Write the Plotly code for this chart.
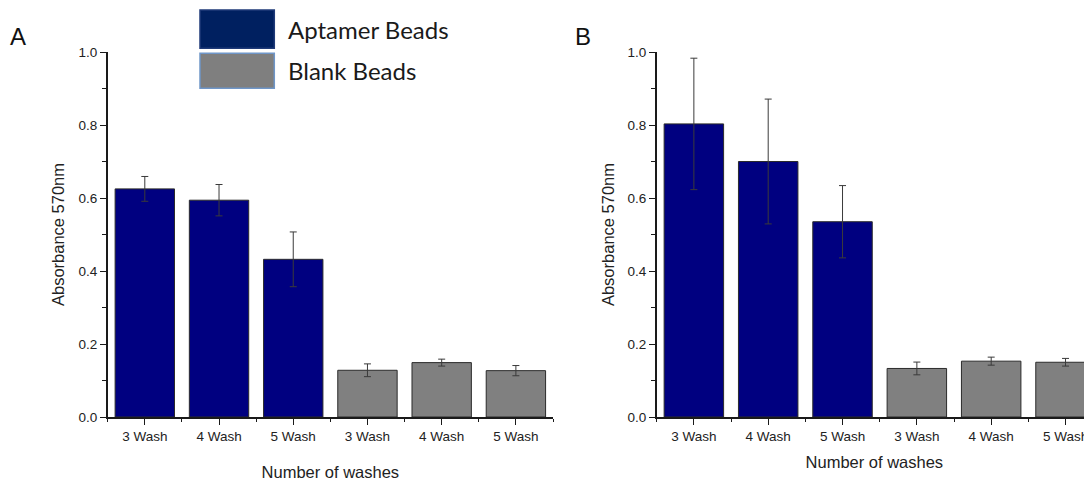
import plotly.graph_objects as go

W, H = 1092, 481
PAGE_MARGIN = 8  # default body margin of the html page
FIG_W, FIG_H = W - PAGE_MARGIN, H - PAGE_MARGIN

categories = ["3 Wash", "4 Wash", "5 Wash", "3 Wash", "4 Wash", "5 Wash"]
groups = ["Aptamer Beads", "Aptamer Beads", "Aptamer Beads", "Blank Beads", "Blank Beads", "Blank Beads"]
positions = [0, 1, 2, 3, 4, 5]

values_a = [0.625, 0.594, 0.432, 0.128, 0.149, 0.127]
errors_a = [0.034, 0.043, 0.075, 0.0175, 0.0095, 0.014]

values_b = [0.803, 0.700, 0.535, 0.133, 0.153, 0.150]
errors_b = [0.180, 0.171, 0.099, 0.0175, 0.011, 0.0105]

group_colors = {"Aptamer Beads": "#000080", "Blank Beads": "#808080"}
legend_box_colors = {"Aptamer Beads": "#002060", "Blank Beads": "#7f7f7f"}

FONT = "Liberation Sans, Arial, sans-serif"
AXIS_COLOR = "#1a1a1a"

fig = go.Figure()

for vals, errs, xa, ya in [(values_a, errors_a, "x", "y"), (values_b, errors_b, "x2", "y2")]:
    fig.add_trace(go.Bar(
        x=positions, y=vals, width=0.8,
        marker=dict(color=[group_colors[g] for g in groups],
                    line=dict(color="#2b2b2b", width=1)),
        error_y=dict(type="data", array=errs, visible=True,
                     color="#3a3a3a", thickness=1, width=3.5),
        xaxis=xa, yaxis=ya, showlegend=False,
        hovertext=groups,
    ))

def px_x(v):
    return min(1.0, (v - PAGE_MARGIN) / FIG_W)

def px_y(v):
    return 1 - (v - PAGE_MARGIN) / FIG_H

y_dom = [px_y(417), px_y(52)]

common_x = dict(
    tickmode="array", tickvals=positions, ticktext=categories,
    showline=True, linecolor=AXIS_COLOR, linewidth=1.5,
    ticks="outside", ticklen=6, tickwidth=1.2, tickcolor=AXIS_COLOR,
    minor=dict(ticks="outside", ticklen=3, tickcolor=AXIS_COLOR, tickwidth=1.2,
               tickmode="linear", tick0=0.5, dtick=1),
    showgrid=False, zeroline=False, automargin=False,
    tickfont=dict(family=FONT, size=13.5, color="#222"),
    title=dict(text="Number of washes", font=dict(family=FONT, size=16.5, color="#222")),
)
common_y = dict(
    range=[0, 1.0], domain=y_dom,
    tickmode="linear", tick0=0, dtick=0.2, tickformat=".1f",
    showline=True, linecolor=AXIS_COLOR, linewidth=1.5,
    ticks="outside", ticklen=6, tickwidth=1.2, tickcolor=AXIS_COLOR,
    minor=dict(ticks="outside", ticklen=4, tickcolor=AXIS_COLOR, tickwidth=1.2, dtick=0.1),
    showgrid=False, zeroline=False, automargin=False,
    tickfont=dict(family=FONT, size=13.5, color="#222"),
    title=dict(text="Absorbance 570nm", font=dict(family=FONT, size=16.5, color="#222")),
)

xa1 = dict(common_x)
xa1.update(domain=[px_x(107.7), px_x(553)], range=[-0.5, 5.5], anchor="y")
xa1["title"] = dict(common_x["title"], standoff=24)

# panel B is cropped by the right edge of the image
spacing_b = 74.33
xa2 = dict(common_x)
xa2.update(domain=[px_x(656.7), 1.0], range=[-0.5, -0.5 + (W - 656.7) / spacing_b], anchor="y2")
xa2["title"] = dict(common_x["title"], standoff=13)

ya1 = dict(common_y)
ya1.update(anchor="x")
ya1["title"] = dict(common_y["title"], standoff=10)
ya2 = dict(common_y)
ya2.update(anchor="x2")
ya2["title"] = dict(common_y["title"], standoff=9)

shapes = []
annotations = []

# panel letters
annotations.append(dict(text="A", x=px_x(18.3), y=px_y(36), xref="paper", yref="paper",
                        showarrow=False, font=dict(family=FONT, size=24, color="#111"),
                        xanchor="center", yanchor="middle"))
annotations.append(dict(text="B", x=px_x(583), y=px_y(36), xref="paper", yref="paper",
                        showarrow=False, font=dict(family=FONT, size=24, color="#111"),
                        xanchor="center", yanchor="middle"))

# custom legend (large swatches)
legend_entries = [("Aptamer Beads", 10, 48.3, "#1f3a78"), ("Blank Beads", 53.3, 88.3, "#6f96c8")]
for name, y0, y1, border in legend_entries:
    shapes.append(dict(type="rect", xref="paper", yref="paper",
                       x0=px_x(200), x1=px_x(274.3), y0=px_y(y1), y1=px_y(y0),
                       fillcolor=legend_box_colors[name], line=dict(color=border, width=1.5)))
    annotations.append(dict(text=name, x=px_x(286), y=px_y((y0 + y1) / 2), xref="paper", yref="paper",
                            showarrow=False, xanchor="left", yanchor="middle",
                            font=dict(family="Lato, Open Sans, sans-serif", size=24, color="#1a1a1a")))

fig.update_layout(
    width=FIG_W, height=FIG_H,
    margin=dict(l=0, r=0, t=0, b=0),
    paper_bgcolor="white", plot_bgcolor="white",
    xaxis=xa1, yaxis=ya1, xaxis2=xa2, yaxis2=ya2,
    shapes=shapes, annotations=annotations,
    showlegend=False, bargap=0.2,
)

fig.write_html("out.html")
